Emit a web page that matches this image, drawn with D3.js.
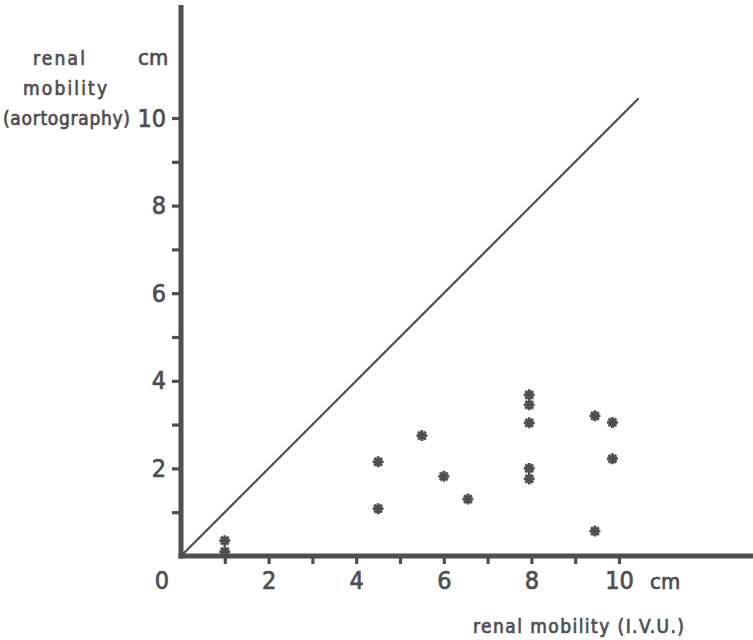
<!DOCTYPE html>
<html>
<head>
<meta charset="utf-8">
<script src="https://cdn.jsdelivr.net/npm/d3@7"></script>
<style>
  html, body { margin: 0; padding: 0; background: #ffffff; }
  svg { display: block; }
  text { font-family: "DejaVu Sans Condensed", "DejaVu Sans", sans-serif; fill: #4e4e53; stroke: #4e4e53; stroke-width: 0.7px; }
</style>
</head>
<body>
<div id="chart"></div>
<script>
// Renal mobility: I.V.U. (x) against aortography (y), in cm
const ivu = [1.0, 1.0, 4.5, 4.5, 5.5, 6.0, 6.55, 7.95, 7.95, 7.95, 7.95, 7.95, 9.45, 9.85, 9.85, 9.45];
const aorto = [0.35, 0.1, 2.15, 1.08, 2.75, 1.82, 1.3, 3.68, 3.45, 3.04, 2.0, 1.76, 3.2, 3.05, 2.22, 0.57];
const xTicks = [1, 2, 3, 4, 5, 6, 7, 8, 9, 10];
const yTicks = [1, 2, 3, 4, 5, 6, 7, 8, 9, 10];
const xTickLabels = ["", "2", "", "4", "", "6", "", "8", "", "10"];
const yTickLabels = ["", "2", "", "4", "", "6", "", "8", "", "10"];
const identityEnd = 10.45;   // the line of equality y = x
const xTitle = "renal mobility (I.V.U.)";
const yTitleLines = ["renal", "mobility", "(aortography)"];
const unitLabel = "cm";

const W = 753, H = 640;
const ink = "#4e4e53";

const svg = d3.select("#chart").append("svg")
  .attr("width", W).attr("height", H);

const x = d3.scaleLinear().domain([0, 10]).range([181, 619]);
const y = d3.scaleLinear().domain([0, 10]).range([556, 118]);

// line of equality
svg.append("line")
  .attr("x1", x(0)).attr("y1", y(0))
  .attr("x2", x(identityEnd)).attr("y2", y(identityEnd))
  .attr("stroke", ink).attr("stroke-width", 2.2);

// x axis
const gx = svg.append("g").attr("transform", `translate(0,${y(0)})`)
  .call(d3.axisBottom(x).tickValues(xTicks)
    .tickFormat((d, i) => xTickLabels[i])
    .tickSizeInner(8).tickSizeOuter(0).tickPadding(7));
gx.select(".domain").remove();
gx.selectAll(".tick line").attr("stroke", ink).attr("stroke-width", 3.2);
gx.selectAll(".tick text").attr("font-size", 25).attr("fill", ink)
  .attr("font-family", null);
gx.append("line")
  .attr("x1", x(0) - 2.5).attr("x2", W)
  .attr("stroke", ink).attr("stroke-width", 5);

// y axis
const gy = svg.append("g").attr("transform", `translate(${x(0)},0)`)
  .call(d3.axisLeft(y).tickValues(yTicks)
    .tickFormat((d, i) => yTickLabels[i])
    .tickSizeInner(9).tickSizeOuter(0).tickPadding(6));
gy.select(".domain").remove();
gy.selectAll(".tick line").attr("stroke", ink).attr("stroke-width", 3.2);
gy.selectAll(".tick text").attr("font-size", 25).attr("fill", ink)
  .attr("font-family", null);
gy.append("line")
  .attr("y1", 5).attr("y2", y(0) + 2.5)
  .attr("stroke", ink).attr("stroke-width", 5);

// origin label and x unit
svg.append("text").attr("x", x(0) - 19).attr("y", 589)
  .attr("text-anchor", "middle").attr("font-size", 25).text("0");
svg.append("text").attr("x", 650).attr("y", 589)
  .attr("font-size", 22).text(unitLabel);

// axis titles
svg.append("text").attr("x", 473).attr("y", 633)
  .attr("font-size", 19).attr("textLength", 211).attr("lengthAdjust", "spacing")
  .text(xTitle);

const yTitleX = [33, 23, 3];
const yTitleW = [52, 84, 127];
const yTitleY = [65, 95, 125];
yTitleLines.forEach((s, i) => {
  svg.append("text").attr("x", yTitleX[i]).attr("y", yTitleY[i])
    .attr("font-size", 19).attr("textLength", yTitleW[i]).attr("lengthAdjust", "spacing")
    .text(s);
});
svg.append("text").attr("x", 138).attr("y", 65)
  .attr("font-size", 22).text(unitLabel);

// asterisk markers: four crossing strokes
const star = {
  draw(ctx, size) {
    const r = Math.sqrt(size) / 2;
    for (let k = 0; k < 4; k++) {
      const a = k * Math.PI / 4;
      ctx.moveTo(r * Math.cos(a), r * Math.sin(a));
      ctx.lineTo(-r * Math.cos(a), -r * Math.sin(a));
    }
  }
};
svg.append("g").selectAll("path")
  .data(ivu.map((v, i) => [v, aorto[i]]))
  .join("path")
  .attr("transform", d => `translate(${x(d[0])},${y(d[1])})`)
  .attr("d", d3.symbol().type(star).size(120))
  .attr("fill", "none").attr("stroke", ink).attr("stroke-width", 2.8);
</script>
</body>
</html>
